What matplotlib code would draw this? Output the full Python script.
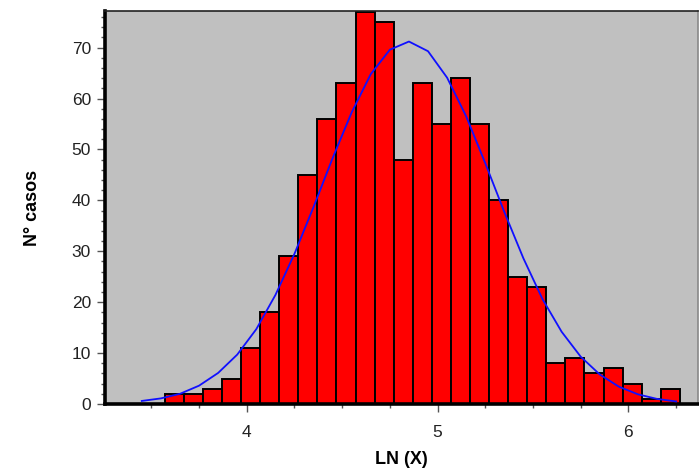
import matplotlib
matplotlib.use("Agg")
import matplotlib.pyplot as plt
from matplotlib.ticker import MultipleLocator
import numpy as np

# histogram bins (left edges) and counts
bin_left = [3.57, 3.67, 3.77, 3.87, 3.97, 4.07, 4.17, 4.27, 4.37, 4.47,
            4.57, 4.67, 4.77, 4.87, 4.97, 5.07, 5.17, 5.27, 5.37, 5.47,
            5.57, 5.67, 5.77, 5.87, 5.97, 6.07, 6.17]
counts = [2, 2, 3, 5, 11, 18, 29, 45, 56, 63,
          77, 75, 48, 63, 55, 64, 55, 40, 25, 23,
          8, 9, 6, 7, 4, 1, 3]
bin_width = 0.1

# fitted normal curve
curve_x = [3.45, 3.55, 3.65, 3.75, 3.85, 3.95, 4.05, 4.15, 4.25, 4.35,
           4.45, 4.55, 4.65, 4.75, 4.85, 4.95, 5.05, 5.15, 5.25, 5.35,
           5.45, 5.55, 5.65, 5.75, 5.85, 5.95, 6.05, 6.15, 6.25]
curve_y = [0.6, 1.1, 2.0, 3.6, 6.1, 9.7, 14.7, 21.4, 29.5, 38.7,
           48.3, 57.3, 64.8, 69.6, 71.2, 69.3, 64.1, 56.5, 47.3, 37.7,
           28.6, 20.6, 14.2, 9.3, 5.8, 3.4, 1.9, 1.0, 0.5]

plt.rcParams['font.family'] = ['Liberation Sans', 'DejaVu Sans']

fig = plt.figure(figsize=(6.99, 4.74), dpi=100)
ax = fig.add_axes([0.1502, 0.1477, 0.8484, 0.8291])
ax.set_facecolor("#c0c0c0")

ax.bar(bin_left, counts, width=bin_width, align="edge",
       color="#ff0000", edgecolor="black", linewidth=1.4, zorder=2)
ax.plot(curve_x, curve_y, color="#1010ff", linewidth=1.3, zorder=3)

ax.set_xlim(3.257, 6.365)
ax.set_ylim(0, 77.2)

ax.xaxis.set_major_locator(MultipleLocator(1))
ax.xaxis.set_minor_locator(MultipleLocator(0.25))
ax.yaxis.set_major_locator(MultipleLocator(10))
ax.yaxis.set_minor_locator(MultipleLocator(2))

ax.tick_params(which="major", length=6, width=1, color="#555555",
               labelsize=12.5, labelcolor="#222222", pad=4)
ax.tick_params(axis="x", which="major", pad=9)
ax.tick_params(which="minor", length=3, width=1, color="#555555")

for side in ("left", "bottom"):
    ax.spines[side].set_linewidth(2.6)
    ax.spines[side].set_color("black")
ax.spines["top"].set_linewidth(1.2)
ax.spines["top"].set_color("#222222")
ax.spines["right"].set_linewidth(1.2)
ax.spines["right"].set_color("#888888")

ax.set_xlabel("LN (X)", fontsize=13, fontweight="bold", labelpad=8)
ax.set_ylabel("N° casos", fontsize=13, fontweight="bold", labelpad=22)

fig.savefig("out.png", dpi=100, facecolor="white")
